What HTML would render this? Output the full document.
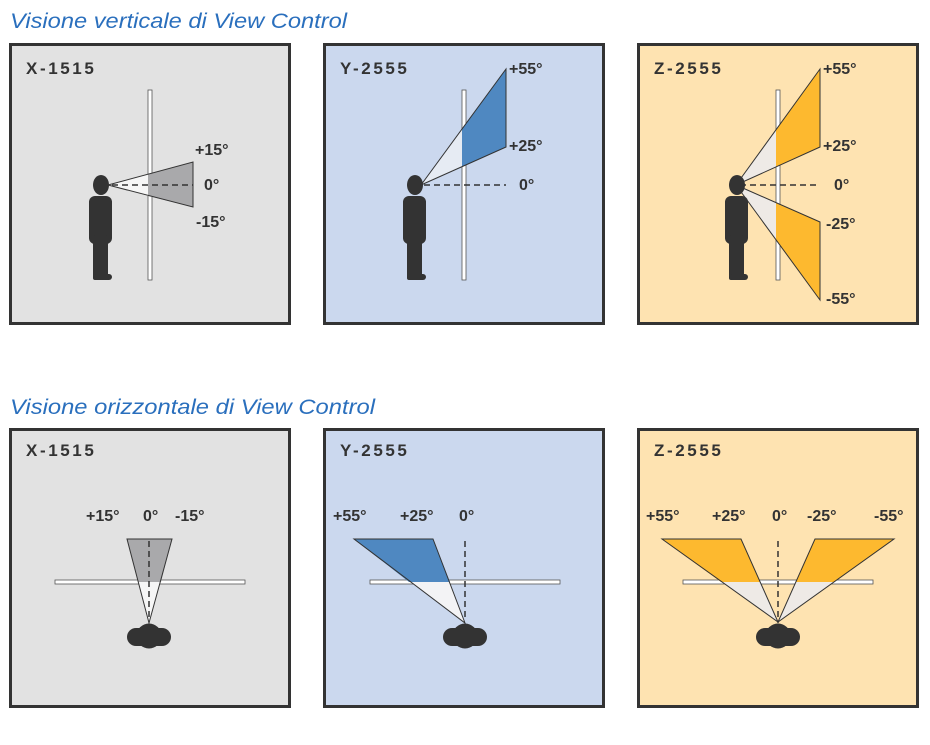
<!DOCTYPE html>
<html><head><meta charset="utf-8"><style>
html,body{margin:0;padding:0;background:#fff;}
svg{display:block;}
.t{font-family:"Liberation Sans",sans-serif;font-style:italic;fill:#2a6fbd;font-size:21px;}
.lb{font-family:"Liberation Sans",sans-serif;font-weight:bold;fill:#333;font-size:17px;letter-spacing:2.6px;}
.d{font-family:"Liberation Sans",sans-serif;font-weight:bold;fill:#333;font-size:16px;}
</style></head><body>
<svg width="930" height="745" viewBox="0 0 930 745" xmlns="http://www.w3.org/2000/svg">
<defs>
<g id="person">
<ellipse cx="101" cy="185" rx="8" ry="10" fill="#333"/>
<rect x="89" y="196" width="23" height="48" rx="6" fill="#333"/>
<rect x="93" y="235" width="15" height="45" rx="2" fill="#333"/>
<rect x="93" y="274" width="19" height="6" rx="3" fill="#333"/>
</g>
<g id="blob">
<circle cx="0" cy="636" r="12.5" fill="#333"/>
<rect x="-22" y="628" width="44" height="18" rx="9" fill="#333"/>
</g>
</defs>

<text class="t" x="10" y="28" textLength="337" lengthAdjust="spacingAndGlyphs">Visione verticale di View Control</text>
<text class="t" x="10" y="414" textLength="365" lengthAdjust="spacingAndGlyphs">Visione orizzontale di View Control</text>

<!-- Top panels -->
<rect x="10.5" y="44.5" width="279" height="279" fill="#e2e2e2" stroke="#333" stroke-width="3"/>
<rect x="324.5" y="44.5" width="279" height="279" fill="#cbd8ee" stroke="#333" stroke-width="3"/>
<rect x="638.5" y="44.5" width="279" height="279" fill="#fee3b1" stroke="#333" stroke-width="3"/>

<!-- Panel 1 top -->
<text class="lb" x="26" y="74">X-1515</text>
<rect x="148" y="90" width="4" height="190" fill="#fff" stroke="#555" stroke-width="0.8"/>
<polygon points="108,185 148,174 148,196" fill="#f6f6f6"/>
<polygon points="148,174 193,162 193,207 148,196" fill="#a9a9ab"/>
<polygon points="108,185 193,162 193,207" fill="none" stroke="#333" stroke-width="1"/>
<line x1="112" y1="185" x2="193" y2="185" stroke="#333" stroke-width="1.5" stroke-dasharray="6,4"/>
<use href="#person"/>
<text class="d" x="195" y="155">+15°</text>
<text class="d" x="204" y="190">0°</text>
<text class="d" x="196" y="227">-15°</text>

<!-- Panel 2 top -->
<text class="lb" x="340" y="74">Y-2555</text>
<rect x="462" y="90" width="4" height="190" fill="#fff" stroke="#555" stroke-width="0.8"/>
<polygon points="421,185 462,129 462,167" fill="#e6ebf3"/>
<polygon points="462,129 506,69 506,147 462,167" fill="#4f88c1"/>
<polygon points="421,185 506,69 506,147" fill="none" stroke="#333" stroke-width="1"/>
<line x1="424" y1="185" x2="506" y2="185" stroke="#333" stroke-width="1.5" stroke-dasharray="6,4"/>
<use href="#person" transform="translate(314,0)"/>
<text class="d" x="509" y="74">+55°</text>
<text class="d" x="509" y="151">+25°</text>
<text class="d" x="519" y="190">0°</text>

<!-- Panel 3 top -->
<text class="lb" x="654" y="74">Z-2555</text>
<rect x="776" y="90" width="4" height="190" fill="#fff" stroke="#555" stroke-width="0.8"/>
<polygon points="736,185 776,130 776,167" fill="#eeeae6"/>
<polygon points="776,130 820,69 820,147 776,167" fill="#fdb92f"/>
<polygon points="736,185 776,203 776,240" fill="#eeeae6"/>
<polygon points="776,203 820,222 820,300 776,240" fill="#fdb92f"/>
<polygon points="736,185 820,69 820,147" fill="none" stroke="#333" stroke-width="1"/>
<polygon points="736,185 820,222 820,300" fill="none" stroke="#333" stroke-width="1"/>
<line x1="740" y1="185" x2="820" y2="185" stroke="#333" stroke-width="1.5" stroke-dasharray="6,4"/>
<use href="#person" transform="translate(636,0)"/>
<text class="d" x="823" y="74">+55°</text>
<text class="d" x="823" y="151">+25°</text>
<text class="d" x="834" y="190">0°</text>
<text class="d" x="826" y="229">-25°</text>
<text class="d" x="826" y="304">-55°</text>

<!-- Bottom panels -->
<rect x="10.5" y="429.5" width="279" height="277" fill="#e2e2e2" stroke="#333" stroke-width="3"/>
<rect x="324.5" y="429.5" width="279" height="277" fill="#cbd8ee" stroke="#333" stroke-width="3"/>
<rect x="638.5" y="429.5" width="279" height="277" fill="#fee3b1" stroke="#333" stroke-width="3"/>

<!-- Panel 1 bottom -->
<text class="lb" x="26" y="456">X-1515</text>
<rect x="55" y="580" width="190" height="4" fill="#fff" stroke="#555" stroke-width="0.8"/>
<polygon points="127,539 172,539 149,623" fill="#f6f6f6"/>
<polygon points="127,539 172,539 161,582 138,582" fill="#a9a9ab"/>
<polygon points="127,539 172,539 149,623" fill="none" stroke="#333" stroke-width="1"/>
<line x1="149" y1="541" x2="149" y2="620" stroke="#333" stroke-width="1.5" stroke-dasharray="6,4"/>
<use href="#blob" transform="translate(149,0)"/>
<text class="d" x="86" y="521">+15°</text>
<text class="d" x="143" y="521">0°</text>
<text class="d" x="175" y="521">-15°</text>

<!-- Panel 2 bottom -->
<text class="lb" x="340" y="456">Y-2555</text>
<rect x="370" y="580" width="190" height="4" fill="#fff" stroke="#555" stroke-width="0.8"/>
<polygon points="354,539 433,539 465,623" fill="#f3f3f5"/>
<polygon points="354,539 433,539 450,582 409,582" fill="#4f88c1"/>
<polygon points="354,539 433,539 465,623" fill="none" stroke="#333" stroke-width="1"/>
<line x1="465" y1="541" x2="465" y2="620" stroke="#333" stroke-width="1.5" stroke-dasharray="6,4"/>
<use href="#blob" transform="translate(465,0)"/>
<text class="d" x="333" y="521">+55°</text>
<text class="d" x="400" y="521">+25°</text>
<text class="d" x="459" y="521">0°</text>

<!-- Panel 3 bottom -->
<text class="lb" x="654" y="456">Z-2555</text>
<rect x="683" y="580" width="190" height="4" fill="#fff" stroke="#555" stroke-width="0.8"/>
<polygon points="662,539 741,539 778,622" fill="#eeeae6"/>
<polygon points="815,539 894,539 778,622" fill="#eeeae6"/>
<polygon points="662,539 741,539 760,582 721,582" fill="#fdb92f"/>
<polygon points="815,539 894,539 834,582 796,582" fill="#fdb92f"/>
<polygon points="662,539 741,539 778,622" fill="none" stroke="#333" stroke-width="1"/>
<polygon points="815,539 894,539 778,622" fill="none" stroke="#333" stroke-width="1"/>
<line x1="778" y1="541" x2="778" y2="620" stroke="#333" stroke-width="1.5" stroke-dasharray="6,4"/>
<use href="#blob" transform="translate(778,0)"/>
<text class="d" x="646" y="521">+55°</text>
<text class="d" x="712" y="521">+25°</text>
<text class="d" x="772" y="521">0°</text>
<text class="d" x="807" y="521">-25°</text>
<text class="d" x="874" y="521">-55°</text>
</svg>
</body></html>
